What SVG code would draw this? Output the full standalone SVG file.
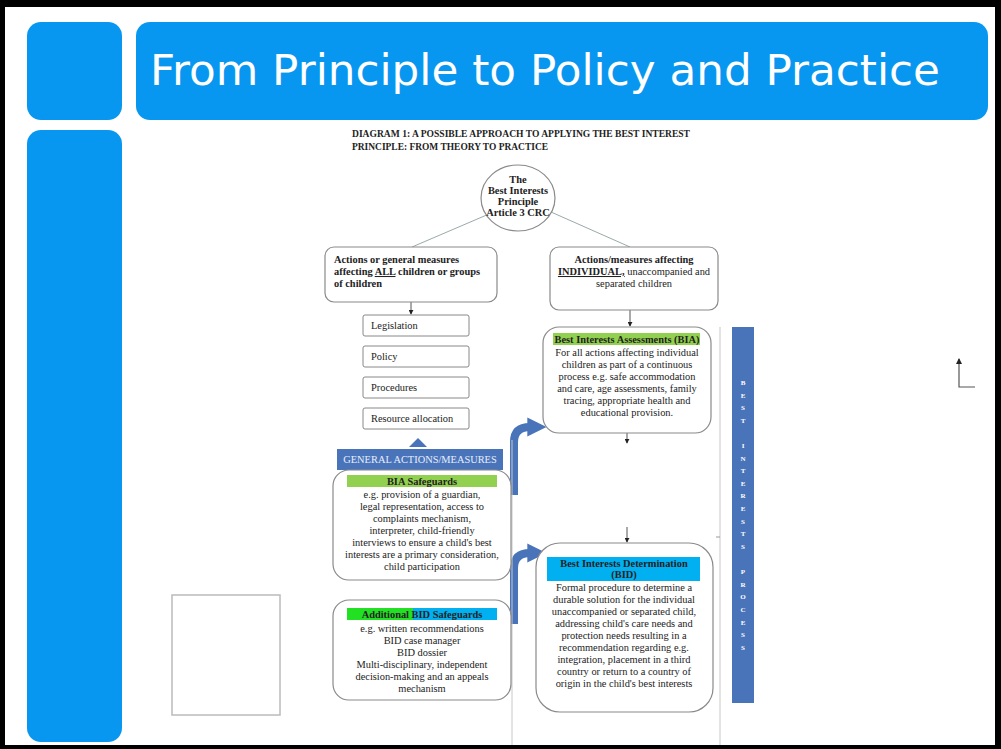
<svg xmlns="http://www.w3.org/2000/svg" width="1001" height="749" viewBox="0 0 1001 749">
<defs>
<style>
.sf{font-family:"Liberation Serif","Times New Roman",serif;fill:#222;font-size:10.4px}
.b{font-weight:bold}
.c{text-anchor:middle}
.box{fill:#fff;stroke:#8a8a8a;stroke-width:1.2}
.sbox{fill:#fff;stroke:#888;stroke-width:1}
.tblue{fill:#0897f0}
.sblue{fill:#4a74ba}
.thin{stroke:#555;stroke-width:1;fill:none}
.bent{fill:none;stroke:#4a74ba;stroke-width:8}
.vl{font-family:"Liberation Serif",serif;font-size:7px;font-weight:bold;fill:#fff;text-anchor:middle}
</style>
<marker id="ah" viewBox="0 0 6 6" refX="5" refY="3" markerWidth="5" markerHeight="5" orient="auto"><path d="M0,0 L6,3 L0,6 z" fill="#222"/></marker>
<marker id="bh" viewBox="0 0 10 10" refX="4" refY="5" markerWidth="2.4" markerHeight="2.4" orient="auto" markerUnits="strokeWidth"><path d="M0,0 L10,5 L0,10 z" fill="#4a74ba"/></marker>
</defs>
<rect x="0" y="0" width="1001" height="749" fill="#000"/>
<rect x="5" y="7" width="990" height="738" fill="#fff"/>

<g id="title-left-block"><rect x="27" y="22" width="95" height="98" rx="14" class="tblue"/></g>
<g id="left-bar"><rect x="27" y="130" width="95" height="612" rx="14" class="tblue"/></g>
<g id="title"><rect x="136" y="22" width="852" height="98" rx="14" class="tblue"/>
<text x="545" y="85" font-family="DejaVu Sans, Verdana, sans-serif" font-size="43" fill="#fff" text-anchor="middle" textLength="790" lengthAdjust="spacingAndGlyphs">From Principle to Policy and Practice</text></g>

<g id="subtitle">
<text x="352" y="137" class="sf b" font-size="8.3" textLength="338" lengthAdjust="spacingAndGlyphs">DIAGRAM 1: A POSSIBLE APPROACH TO APPLYING THE BEST INTEREST</text>
<text x="352" y="150" class="sf b" font-size="8.3" textLength="196" lengthAdjust="spacingAndGlyphs">PRINCIPLE: FROM THEORY TO PRACTICE</text>
</g>

<g id="connectors">
<line x1="489" y1="214" x2="412" y2="247" stroke="#9aa" stroke-width="1"/>
<line x1="551" y1="212" x2="630" y2="247" stroke="#9aa" stroke-width="1"/>
<line x1="411" y1="302" x2="411" y2="314" class="thin" marker-end="url(#ah)"/>
<line x1="630" y1="310" x2="630" y2="326" class="thin" marker-end="url(#ah)"/>
<line x1="627" y1="433" x2="627" y2="443" class="thin" marker-end="url(#ah)"/>
<line x1="627" y1="527" x2="627" y2="542" class="thin" marker-end="url(#ah)"/>
<path d="M409,447 L418,438 L427,447 z" fill="#4a74ba"/>
<path d="M514,495 V442 Q514,427 530,427 H535" class="bent" marker-end="url(#bh)"/>
<path d="M514,624 V568 Q514,553 530,553 H535" class="bent" marker-end="url(#bh)"/>
<line x1="720" y1="327" x2="720" y2="745" stroke="#c8c8c8" stroke-width="1"/>
<line x1="716" y1="537" x2="720" y2="537" stroke="#999" stroke-width="1"/>
<line x1="512" y1="440" x2="512" y2="745" stroke="#c8c8c8" stroke-width="1"/>
<path d="M975,387 H959 V359" fill="none" stroke="#555" stroke-width="1.2" marker-end="url(#ah)"/>
</g>

<g id="node-principle">
<ellipse cx="518" cy="198" rx="37" ry="33" class="box"/>
<text x="518" y="183" class="sf b c" font-size="6.6">The</text>
<text x="518" y="194" class="sf b c" font-size="6.6">Best Interests</text>
<text x="518" y="205" class="sf b c" font-size="6.6">Principle</text>
<text x="518" y="216" class="sf b c" font-size="6.6">Article 3 CRC</text>
</g>

<g id="node-all">
<rect x="325" y="247" width="172" height="55" rx="9" class="box"/>
<text x="334" y="263" class="sf b">Actions or general measures</text>
<text x="334" y="275" class="sf b">affecting <tspan text-decoration="underline">ALL</tspan> children or groups</text>
<text x="334" y="287" class="sf b">of children</text>
</g>

<g id="node-individual">
<rect x="550" y="247" width="168" height="63" rx="9" class="box"/>
<text x="634" y="263" class="sf b c">Actions/measures affecting</text>
<text x="634" y="275" class="sf c"><tspan class="b" text-decoration="underline">INDIVIDUAL,</tspan> unaccompanied and</text>
<text x="634" y="287" class="sf c">separated children</text>
</g>

<g id="node-legislation"><rect x="363" y="315" width="106" height="21" rx="2" class="sbox"/><text x="371" y="329" class="sf">Legislation</text></g>
<g id="node-policy"><rect x="363" y="346" width="106" height="21" rx="2" class="sbox"/><text x="371" y="360" class="sf">Policy</text></g>
<g id="node-procedures"><rect x="363" y="377" width="106" height="21" rx="2" class="sbox"/><text x="371" y="391" class="sf">Procedures</text></g>
<g id="node-resource"><rect x="363" y="408" width="106" height="21" rx="2" class="sbox"/><text x="371" y="422" class="sf">Resource allocation</text></g>

<g id="node-general">
<rect x="337" y="449" width="166" height="21" class="sblue"/>
<text x="420" y="463" class="sf c" font-size="8.5" style="fill:#e8eefa">GENERAL ACTIONS/MEASURES</text>
</g>

<g id="node-bia-safeguards">
<rect x="333" y="470" width="178" height="110" rx="16" class="box"/>
<rect x="347" y="475" width="150" height="12" fill="#92d050"/>
<text x="422" y="485" class="sf b c">BIA Safeguards</text>
<text x="422" y="498" class="sf c">e.g. provision of a guardian,</text>
<text x="422" y="510" class="sf c">legal representation, access to</text>
<text x="422" y="522" class="sf c">complaints mechanism,</text>
<text x="422" y="534" class="sf c">interpreter, child-friendly</text>
<text x="422" y="546" class="sf c">interviews to ensure a child's best</text>
<text x="422" y="558" class="sf c">interests are a primary consideration,</text>
<text x="422" y="570" class="sf c">child participation</text>
</g>

<g id="node-bid-safeguards">
<rect x="333" y="600" width="178" height="100" rx="16" class="box"/>
<rect x="347" y="608" width="66" height="12" fill="#22e022"/>
<rect x="413" y="608" width="84" height="12" fill="#00b0f0"/>
<text x="422" y="618" class="sf b c">Additional BID Safeguards</text>
<text x="422" y="632" class="sf c">e.g. written recommendations</text>
<text x="422" y="644" class="sf c">BID case manager</text>
<text x="422" y="656" class="sf c">BID dossier</text>
<text x="422" y="668" class="sf c">Multi-disciplinary, independent</text>
<text x="422" y="680" class="sf c">decision-making and an appeals</text>
<text x="422" y="692" class="sf c">mechanism</text>
</g>

<g id="node-bia">
<rect x="543" y="327" width="168" height="106" rx="16" class="box"/>
<rect x="553" y="333" width="147" height="12" fill="#92d050"/>
<text x="627" y="343" class="sf b c" font-size="9.6">Best Interests Assessments (BIA)</text>
<text x="627" y="356" class="sf c">For all actions affecting individual</text>
<text x="627" y="368" class="sf c">children as part of a continuous</text>
<text x="627" y="380" class="sf c">process e.g. safe accommodation</text>
<text x="627" y="392" class="sf c">and care, age assessments, family</text>
<text x="627" y="404" class="sf c">tracing, appropriate health and</text>
<text x="627" y="416" class="sf c">educational provision.</text>
</g>

<g id="node-bid">
<rect x="536" y="543" width="177" height="169" rx="24" class="box"/>
<rect x="547" y="557" width="153" height="24" fill="#00b0f0"/>
<text x="624" y="567" class="sf b c">Best Interests Determination</text>
<text x="624" y="578" class="sf b c">(BID)</text>
<text x="624" y="591" class="sf c">Formal procedure to determine a</text>
<text x="624" y="603" class="sf c">durable solution for the individual</text>
<text x="624" y="615" class="sf c">unaccompanied or separated child,</text>
<text x="624" y="627" class="sf c">addressing child's care needs and</text>
<text x="624" y="639" class="sf c">protection needs resulting in a</text>
<text x="624" y="651" class="sf c">recommendation regarding e.g.</text>
<text x="624" y="663" class="sf c">integration, placement in a third</text>
<text x="624" y="675" class="sf c">country or return to a country of</text>
<text x="624" y="687" class="sf c">origin in the child's best interests</text>
</g>

<g id="node-process">
<rect x="732" y="327" width="22" height="376" class="sblue"/>
<text class="vl" x="743" y="385">B</text><text class="vl" x="743" y="398">E</text><text class="vl" x="743" y="410">S</text><text class="vl" x="743" y="423">T</text>
<text class="vl" x="743" y="448">I</text><text class="vl" x="743" y="461">N</text><text class="vl" x="743" y="473">T</text><text class="vl" x="743" y="486">E</text><text class="vl" x="743" y="498">R</text><text class="vl" x="743" y="511">E</text><text class="vl" x="743" y="524">S</text><text class="vl" x="743" y="536">T</text><text class="vl" x="743" y="549">S</text>
<text class="vl" x="743" y="574">P</text><text class="vl" x="743" y="587">R</text><text class="vl" x="743" y="599">O</text><text class="vl" x="743" y="612">C</text><text class="vl" x="743" y="625">E</text><text class="vl" x="743" y="637">S</text><text class="vl" x="743" y="650">S</text>
</g>

<g id="empty-frame"><rect x="172" y="595" width="108" height="120" fill="#fff" stroke="#bbb" stroke-width="1.5"/></g>
</svg>
